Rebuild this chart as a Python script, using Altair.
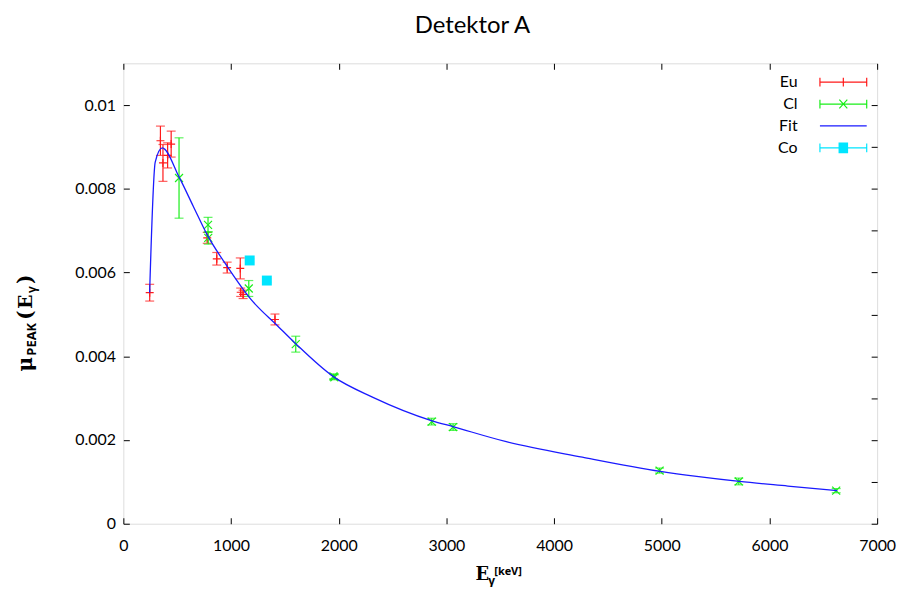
import altair as alt
import pandas as pd

# ---------------- data ----------------
eu_energy = [244.7, 344.3, 367.8, 411.1, 444.0, 778.9, 867.4, 964.1, 1085.8, 1089.7, 1112.1, 1408.0]
eu_mu = [0.00552, 0.00915, 0.00862, 0.00880, 0.00907, 0.00683, 0.00633, 0.00612, 0.00610, 0.00553, 0.00548, 0.00488]
eu_err = [0.00020, 0.00035, 0.00044, 0.00030, 0.00031, 0.00013, 0.00015, 0.00013, 0.00025, 0.00010, 0.00010, 0.00013]

cl_energy = [517.1, 786.3, 788.4, 1164.9, 1601.0, 1951.1, 1959.4, 2863.8, 3061.9, 4979.7, 5715.2, 6619.6]
cl_mu = [0.00826, 0.00714, 0.00683, 0.00562, 0.00429, 0.00352, 0.00350, 0.00244, 0.00231, 0.00127, 0.00101, 0.00079]
cl_err = [0.00096, 0.00018, 0.00015, 0.00019, 0.00019, 0.00006, 0.00006, 0.00008, 0.00008, 0.00006, 0.00008, 0.00005]

co_energy = [1173.2, 1332.5]
co_mu = [0.00629, 0.00581]
co_err = [0.00004, 0.00004]

fit_energy = [244, 296, 361, 518, 650, 779, 972, 1185, 1435, 1605, 1947, 2318, 2867, 3061,
              3556, 4262, 4987, 5324, 5722, 6171, 6630]
fit_mu = [0.00552, 0.00864, 0.00898, 0.00828, 0.00758, 0.00690, 0.00612, 0.00536, 0.00472, 0.00429,
          0.00352, 0.00302, 0.00246, 0.00232, 0.00196, 0.00159, 0.00125, 0.00113, 0.00101, 0.00090,
          0.00079]

series_names = ["Eu", "Cl", "Fit", "Co"]
x_tick_values = [0, 1000, 2000, 3000, 4000, 5000, 6000, 7000]
y_tick_values = [0, 0.002, 0.004, 0.006, 0.008, 0.01]
y_right_tick_values = [0, 0.001, 0.002, 0.003, 0.004, 0.005, 0.006, 0.007, 0.008, 0.009, 0.01]
x_domain = [0, 7000]
y_domain = [0, 0.011]
chart_title = ["Detektor A"]
y_title_parts = ["μ", "PEAK", "(", "E", "γ", ")"]
x_title_parts = ["E", "γ", "[keV]"]

# ---------------- styles ----------------
RED = "#ff1a1a"
GREEN = "#1aee1a"
BLUE = "#1a1aff"
CYAN = "#00e5ff"
series_colors = [RED, GREEN, BLUE, CYAN]
FONT = "Lato"
SERIF = "DejaVu Serif"
W, H = 758, 463

# legend symbols: unit = 8 px (symbolSize 256), line spans +-23.5 px
caps = "M-2.94,-0.55V0.55M2.94,-0.55V0.55"
hatch = "".join(f"M-0.6,{v:.2f}H0.6" for v in [-0.6, -0.48, -0.36, -0.24, -0.12, 0, 0.12, 0.24, 0.36, 0.48, 0.6])
legend_paths = [
    "M-2.94,0H2.94" + caps + "M0,-0.55V0.55",
    "M-2.94,0H2.94" + caps + "M-0.5,-0.55L0.5,0.55M-0.5,0.55L0.5,-0.55",
    "M-2.94,0H2.94",
    "M-2.94,0H2.94" + caps + hatch,
]


def frame(e, m, err):
    return pd.DataFrame({
        "E": e, "mu": m,
        "lo": [a - b for a, b in zip(m, err)],
        "hi": [a + b for a, b in zip(m, err)],
    })


xscale = alt.Scale(domain=x_domain, nice=False, zero=False)
yscale = alt.Scale(domain=y_domain, nice=False, zero=False)

x_axis = alt.Axis(values=x_tick_values, format="d", title=None, domain=False, grid=False,
                  offset=-6, tickSize=6, tickColor="black", tickWidth=1,
                  labelFont=FONT, labelFontSize=16, labelColor="black", labelPadding=14,
                  labelFlush=False, labelOverlap=False)
y_axis = alt.Axis(values=y_tick_values, format="~g", title=None, domain=False, grid=False,
                  offset=-6, tickSize=6, tickColor="black", tickWidth=1,
                  labelFont=FONT, labelFontSize=16, labelColor="black", labelPadding=8,
                  labelOverlap=False)
top_axis = alt.Axis(orient="top", values=x_tick_values, labels=False, title=None, domain=False,
                    grid=False, offset=-6, tickSize=6, tickColor="black", tickWidth=1)
right_axis = alt.Axis(orient="right", values=y_right_tick_values, labels=False, title=None,
                      domain=False, grid=False, offset=-6, tickSize=6, tickColor="black", tickWidth=1)

X = alt.X("E:Q", scale=xscale, axis=x_axis)


def Y(field):
    return alt.Y(f"{field}:Q", scale=yscale, axis=y_axis)


def error_layers(df, color):
    rule = alt.Chart(df).mark_rule(color=color, strokeWidth=1.2).encode(x=X, y=Y("lo"), y2="hi:Q")
    lo = alt.Chart(df).mark_tick(color=color, orient="horizontal", size=9, thickness=1.2).encode(x=X, y=Y("lo"))
    hi = alt.Chart(df).mark_tick(color=color, orient="horizontal", size=9, thickness=1.2).encode(x=X, y=Y("hi"))
    return [rule, lo, hi]


eu = frame(eu_energy, eu_mu, eu_err)
cl = frame(cl_energy, cl_mu, cl_err)
co = frame(co_energy, co_mu, co_err)
fit = pd.DataFrame({"E": fit_energy, "mu": fit_mu})

eu_pts = alt.Chart(eu).mark_point(shape="M-1,0H1M0,-1V1", size=64, color=RED, strokeWidth=1.2,
                                  filled=False, opacity=1).encode(x=X, y=Y("mu"))
cl_pts = alt.Chart(cl).mark_point(shape="M-1,-1L1,1M-1,1L1,-1", size=64, color=GREEN, strokeWidth=1.2,
                                  filled=False, opacity=1).encode(x=X, y=Y("mu"))
fit_line = alt.Chart(fit).mark_line(color=BLUE, strokeWidth=1.3, interpolate="monotone").encode(x=X, y=Y("mu"))
co_pts = alt.Chart(co).mark_square(size=100, color=CYAN, filled=True, opacity=1).encode(x=X, y=Y("mu"))

legend = alt.Legend(title=None, orient="none", legendX=715, legendY=10, padding=0,
                    symbolSize=256, symbolStrokeWidth=1.2, symbolOpacity=1,
                    symbolFillColor="transparent",
                    labelAlign="right", labelOffset=alt.ExprRef(expr="-55"), labelFont=FONT,
                    labelFontSize=16, labelColor="black", rowPadding=5)
legend_layer = alt.Chart(pd.DataFrame({"series": series_names})).transform_filter("false").mark_point(
    filled=False).encode(
    color=alt.Color("series:N", scale=alt.Scale(domain=series_names, range=series_colors), legend=legend),
    shape=alt.Shape("series:N", scale=alt.Scale(domain=series_names, range=legend_paths), legend=legend),
)


def piece(text, x, y, size, font, angle=0, weight="bold", align="left"):
    return alt.Chart(pd.DataFrame({"t": [text]})).mark_text(
        font=font, fontSize=size, fontWeight=weight, angle=angle, align=align,
        baseline="alphabetic", color="black").encode(text="t:N", x=alt.value(x), y=alt.value(y))


ytitle = [
    piece(y_title_parts[0], -92, 310, 20, SERIF, 270),
    piece(y_title_parts[1], -88, 294, 13, "Open Sans", 270),
    piece(y_title_parts[2], -92, 258, 20, SERIF, 270),
    piece(y_title_parts[3], -92, 247, 19, SERIF, 270),
    piece(y_title_parts[4], -88, 231, 12, "Open Sans", 270),
    piece(y_title_parts[5], -92, 222, 20, SERIF, 270),
]
xtitle = [
    piece(x_title_parts[0], 354, 520, 18, SERIF),
    piece(x_title_parts[1], 367, 525, 12, "Open Sans"),
    piece(x_title_parts[2], 373, 515, 11, "Open Sans"),
]
title_mark = piece(chart_title[0], 351, -30, 24, FONT, weight="normal", align="center")

main = alt.layer(
    *error_layers(eu, RED), eu_pts,
    *error_layers(cl, GREEN), cl_pts,
    fit_line,
    *error_layers(co, CYAN), co_pts,
    legend_layer,
    *ytitle, *xtitle, title_mark,
)

axes_layer = alt.Chart(pd.DataFrame({"E": x_domain, "mu": y_domain})).transform_filter("false").mark_point().encode(
    x=alt.X("E:Q", scale=xscale, axis=top_axis),
    y=alt.Y("mu:Q", scale=yscale, axis=right_axis),
)

chart = alt.layer(main, axes_layer).resolve_scale(x="independent", y="independent").properties(
    width=W, height=H,
    autosize=alt.AutoSizeParams(type="none"),
    padding={"left": 116, "top": 54, "right": 24, "bottom": 62},
).configure_view(stroke="black", strokeWidth=1).configure(background="white")

chart.save("out.html", embed_options={"renderer": "svg", "actions": False})
